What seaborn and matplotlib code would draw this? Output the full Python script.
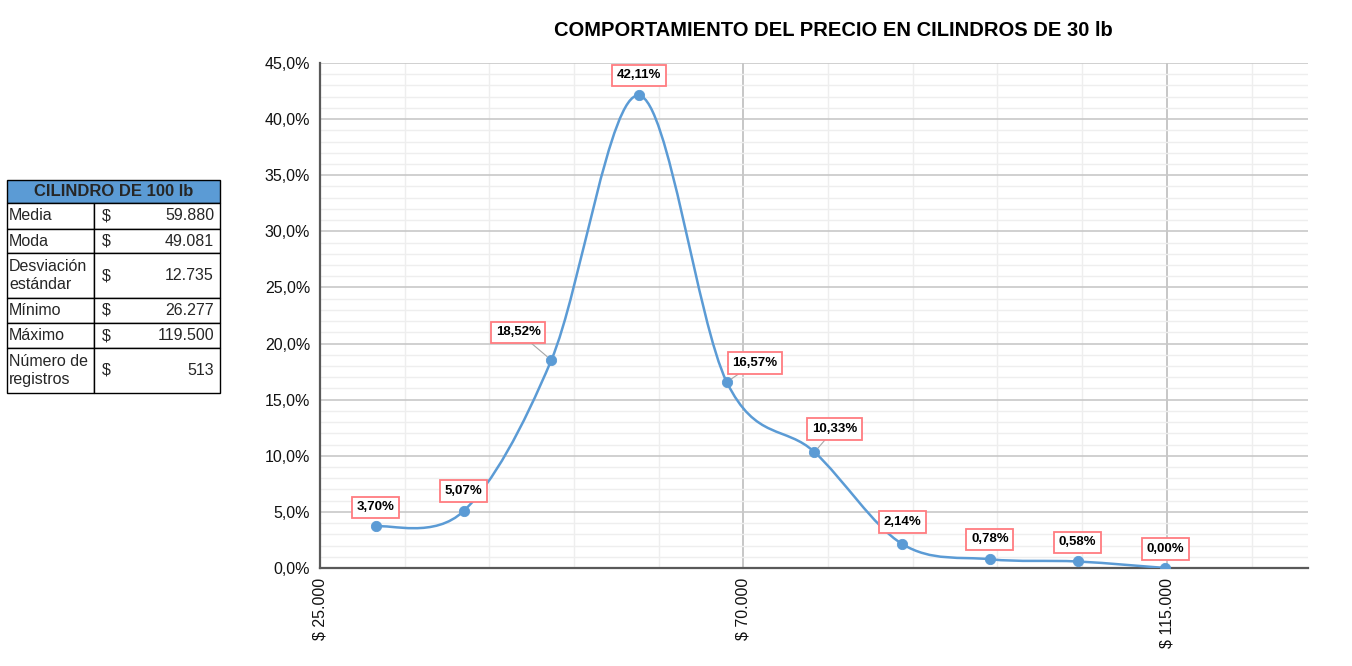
import matplotlib
matplotlib.use('Agg')
import matplotlib.pyplot as plt
from matplotlib.path import Path
from matplotlib.patches import PathPatch, Rectangle
from matplotlib.ticker import MultipleLocator, FuncFormatter
import seaborn as sns
import pandas as pd

# marcas de clase (precio) y frecuencia relativa en %
precios = [30938, 40261, 49583, 58905, 68227, 77550, 86872, 96194, 105516, 114839]
porcentajes = [3.70, 5.07, 18.52, 42.11, 16.57, 10.33, 2.14, 0.78, 0.58, 0.00]

# tabla resumen
tabla_titulo = 'CILINDRO DE 100 lb'
tabla_etiquetas = ['Media', 'Moda', 'Desviación\nestándar', 'Mínimo', 'Máximo', 'Número de\nregistros']
tabla_valores = ['59.880', '49.081', '12.735', '26.277', '119.500', '513']

df = pd.DataFrame({'precio': precios, 'pct': porcentajes})

sns.set_style('white')
plt.rcParams['font.family'] = ['Liberation Sans', 'DejaVu Sans']

W, H = 1352, 666
fig = plt.figure(figsize=(W / 100, H / 100), dpi=100)
ax = fig.add_axes([320 / W, 1 - 568 / H, (1308 - 320) / W, (568 - 63) / H])

AZUL = '#5b9bd5'

# linea suavizada (bezier tipo catmull-rom, como excel)
pts = list(zip(df.precio, df.pct))
n = len(pts)
verts = [pts[0]]
codes = [Path.MOVETO]
for i in range(n - 1):
    p0 = pts[max(i - 1, 0)]
    p1 = pts[i]
    p2 = pts[i + 1]
    p3 = pts[min(i + 2, n - 1)]
    c1 = (p1[0] + (p2[0] - p0[0]) / 6, p1[1] + (p2[1] - p0[1]) / 6)
    c2 = (p2[0] - (p3[0] - p1[0]) / 6, p2[1] - (p3[1] - p1[1]) / 6)
    verts += [c1, c2, p2]
    codes += [Path.CURVE4] * 3
ax.add_patch(PathPatch(Path(verts, codes), fc='none', ec=AZUL, lw=1.8, zorder=3))

sns.scatterplot(data=df, x='precio', y='pct', s=55, color=AZUL, edgecolor=AZUL,
                zorder=4, ax=ax, legend=False)

ax.set_xlim(25000, 130000)
ax.set_ylim(0, 45)
ax.xaxis.set_major_locator(MultipleLocator(45000, offset=25000))
ax.xaxis.set_minor_locator(MultipleLocator(9000, offset=7000))
ax.yaxis.set_major_locator(MultipleLocator(5))
ax.yaxis.set_minor_locator(MultipleLocator(1))
ax.xaxis.set_major_formatter(FuncFormatter(lambda v, _: '$ ' + f'{int(round(v)):,}'.replace(',', '.')))
ax.yaxis.set_major_formatter(FuncFormatter(lambda v, _: f'{v:.1f}%'.replace('.', ',')))

ax.grid(which='major', axis='y', color='#c8c8c8', lw=1.2)
ax.grid(which='major', axis='x', color='#bdbdbd', lw=1.2)
ax.grid(which='minor', color='#eeeeee', lw=1.0)
ax.set_axisbelow(True)

for s in ['top', 'right']:
    ax.spines[s].set_visible(False)
for s in ['left', 'bottom']:
    ax.spines[s].set_color('#595959')
    ax.spines[s].set_linewidth(1.6)

ax.tick_params(which='major', direction='inout', length=8, width=1.2, color='#595959',
               labelsize=11.5, labelcolor='#111111', pad=3)
ax.tick_params(which='minor', length=0)
ax.tick_params(axis='x', labelrotation=90)
ax.set_xlabel('')
ax.set_ylabel('')

# etiquetas de datos
desplaz = [(0, 19), (0, 20), (-33, 28), (0, 20), (28, 19), (20, 23), (0, 22), (0, 20), (0, 19), (0, 19)]
con_guia = [False, False, True, False, True, True, False, False, False, False]
for (x, y), (dx, dy), guia in zip(pts, desplaz, con_guia):
    txt = f'{y:.2f}%'.replace('.', ',')
    ax.annotate(txt, xy=(x, y), xytext=(dx, dy), textcoords='offset pixels',
                ha='center', va='center', fontsize=9.5, fontweight='bold', color='black',
                bbox=dict(boxstyle='square,pad=0.35', fc='white', ec='#ff7c80', lw=1.3),
                arrowprops=dict(arrowstyle='-', color='#a6a6a6', lw=0.8, shrinkA=0, shrinkB=4) if guia else None,
                zorder=5, annotation_clip=False)

fig.text(833 / W, 1 - 31 / H, 'COMPORTAMIENTO DEL PRECIO EN CILINDROS DE 30 lb',
         ha='center', va='center', fontsize=14.5, fontweight='bold', color='black')

# tabla a la izquierda
x0, x1, x2 = 7, 94, 220
filas_y = [180, 203, 229, 253, 298, 323, 348, 393]


def rect(xa, ya, xb, yb, fc='white'):
    fig.add_artist(Rectangle((xa / W, 1 - yb / H), (xb - xa) / W, (yb - ya) / H,
                             transform=fig.transFigure, fc=fc, ec='black', lw=1.0))


rect(x0, filas_y[0], x2, filas_y[1], fc=AZUL)
fig.text((x0 + x2) / 2 / W, 1 - (filas_y[0] + filas_y[1]) / 2 / H, tabla_titulo,
         ha='center', va='center', fontsize=12, fontweight='bold')
for i, (lab, val) in enumerate(zip(tabla_etiquetas, tabla_valores)):
    ya, yb = filas_y[i + 1], filas_y[i + 2]
    rect(x0, ya, x1, yb)
    rect(x1, ya, x2, yb)
    yc = 1 - (ya + yb) / 2 / H
    fig.text((x0 + 2) / W, yc, lab, ha='left', va='center', fontsize=11.5, linespacing=1.2)
    fig.text((x1 + 8) / W, yc, '$', ha='left', va='center', fontsize=11.5)
    fig.text((x2 - 6) / W, yc, val, ha='right', va='center', fontsize=11.5)

fig.savefig('out.png', dpi=100)
